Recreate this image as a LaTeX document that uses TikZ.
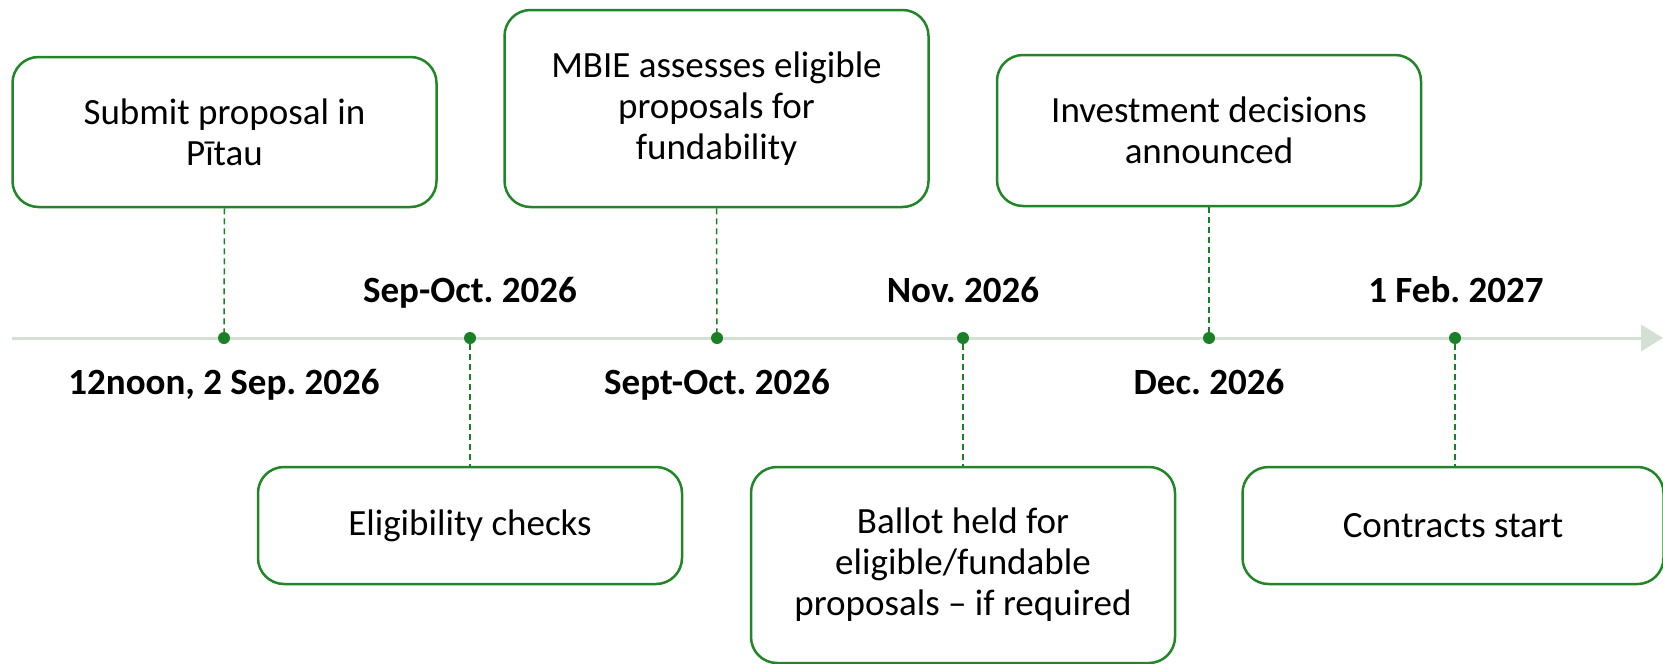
\documentclass[tikz,border=0pt]{standalone}
\usepackage{fontspec}
\setmainfont{Carlito}
\usetikzlibrary{arrows.meta}
\definecolor{boxgreen}{RGB}{34,134,40}
\definecolor{dotgreen}{RGB}{26,128,38}
\definecolor{tlgrey}{RGB}{212,224,212}
\frenchspacing
\begin{document}
\begin{tikzpicture}[x=1pt,y=-1pt,
  box/.style={draw=boxgreen,line width=2.5pt,rounded corners=26pt,align=center,
    minimum width=424pt,inner sep=0pt,font=\fontsize{37}{41}\selectfont},
  dot/.style={circle,fill=dotgreen,inner sep=0pt,minimum size=12pt},
  dashline/.style={draw=dotgreen,line width=1.5pt,dash pattern=on 6pt off 4pt},
  timeline/.style={draw=tlgrey,line width=3pt,-{Triangle[length=22pt,width=26pt]}},
  datelbl/.style={anchor=base,inner sep=0pt,font=\fontsize{37}{41}\selectfont\bfseries}]
\useasboundingbox (0,0) rectangle (1663,664);
\fill[white] (0,0) rectangle (1663,664);
% timeline
\coordinate (tl0) at (12,338);
\coordinate (tl1) at (1663,338);
\draw[timeline] (tl0) -- (tl1);
% dots
\node[dot] (d1) at (224,338) {};
\node[dot] (d2) at (470,338) {};
\node[dot] (d3) at (717,338) {};
\node[dot] (d4) at (963,338) {};
\node[dot] (d5) at (1209,338) {};
\node[dot] (d6) at (1455,338) {};
% boxes
\node[box,minimum height=150pt] (b1) at (224.5,132) {Submit proposal in\\Pītau};
\node[box,minimum height=117pt] (b2) at (470,525.5) {Eligibility checks};
\node[box,minimum height=197pt] (b3) at (716.5,108.5) {MBIE assesses eligible\\proposals for\\fundability};
\node[box,minimum height=196pt] (b4) at (963,565) {Ballot held for\\eligible/fundable\\proposals -- if required};
\node[box,minimum height=151pt] (b5) at (1209,130.5) {Investment decisions\\announced};
\node[box,minimum height=117pt,minimum width=421pt] (b6) at (1453,525.5) {Contracts start};
% connectors
\draw[dashline] (b1.south) -- (d1);
\draw[dashline] (d2) -- (d2 |- b2.north);
\draw[dashline] (b3.south) -- (d3);
\draw[dashline] (d4) -- (d4 |- b4.north);
\draw[dashline] (b5.south) -- (d5);
\draw[dashline] (d6) -- (d6 |- b6.north);
% dates
\node[datelbl] (t1) at (224,394) {12noon, 2 Sep. 2026};
\node[datelbl] (t2) at (470,302) {Sep-Oct. 2026};
\node[datelbl] (t3) at (717,394) {Sept-Oct. 2026};
\node[datelbl] (t4) at (963,302) {Nov. 2026};
\node[datelbl] (t5) at (1209,394) {Dec. 2026};
\node[datelbl] (t6) at (1456,302) {1 Feb. 2027};
\end{tikzpicture}
\end{document}
